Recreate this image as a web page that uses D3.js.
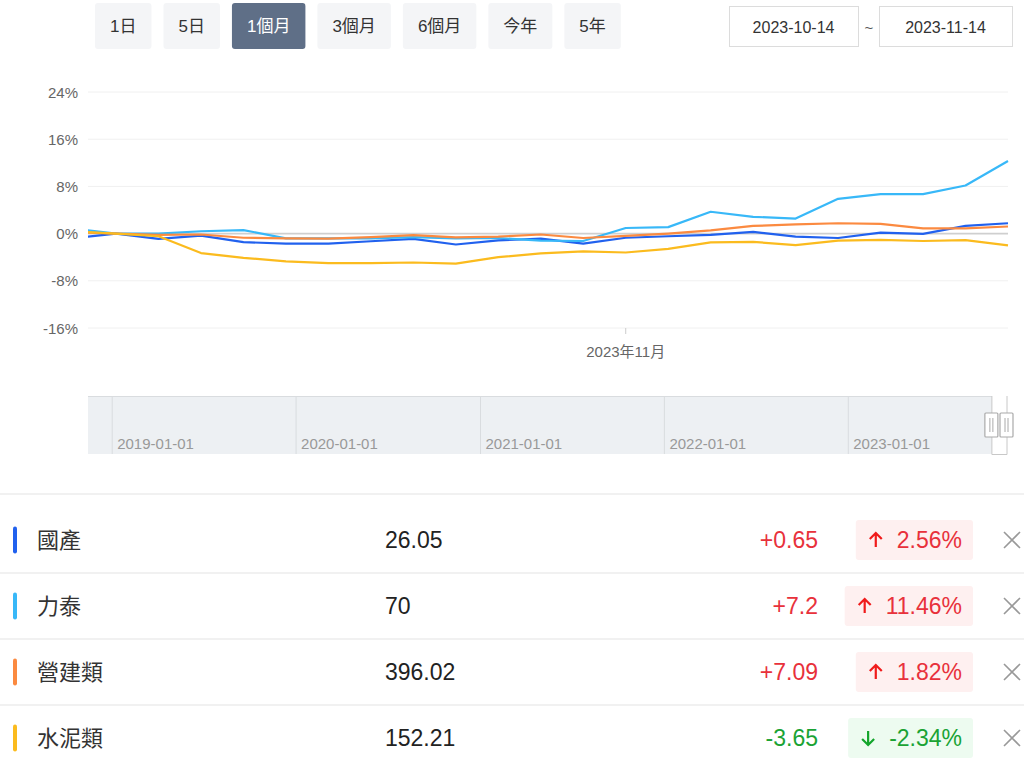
<!DOCTYPE html>
<html>
<head>
<meta charset="utf-8">
<script src="https://cdn.jsdelivr.net/npm/d3@7"></script>
<style>
  html, body { margin: 0; padding: 0; background: #fff; }
  svg { display: block; font-family: "Liberation Sans", "Noto Sans CJK TC", sans-serif; }
</style>
</head>
<body>
<svg id="chart" width="1024" height="769"></svg>
<script>

// ---- data ----
let range_buttons = ["1日", "5日", "1個月", "3個月", "6個月", "今年", "5年"];
let active_button = "1個月";
let date_from = "2023-10-14";
let date_to   = "2023-11-14";

// trading days shown in the window (first one is cut off by the zoom window)
let dates = ["2023-10-13", "2023-10-16", "2023-10-17", "2023-10-18", "2023-10-19", "2023-10-20",
             "2023-10-23", "2023-10-24", "2023-10-25", "2023-10-26", "2023-10-27",
             "2023-10-30", "2023-10-31", "2023-11-01", "2023-11-02", "2023-11-03",
             "2023-11-06", "2023-11-07", "2023-11-08", "2023-11-09", "2023-11-10",
             "2023-11-13", "2023-11-14"];

// % change vs. first day of window
let guochan  = [-0.76, 0, -0.9, -0.35, -1.45, -1.7, -1.7, -1.3, -0.9, -1.85, -1.15, -0.85, -1.7,
                -0.7, -0.45, -0.2, 0.3, -0.5, -0.75, 0.15, -0.05, 1.3, 1.75];
let litai    = [0.85, 0, 0, 0.4, 0.6, -0.8, -0.8, -0.8, -0.6, -0.8, -0.75, -1.2, -1.25,
                0.95, 1.1, 3.7, 2.85, 2.55, 5.9, 6.7, 6.7, 8.15, 12.3];
let yingjian = [0.26, 0, -0.2, -0.15, -0.7, -0.8, -0.85, -0.6, -0.25, -0.65, -0.5, -0.15, -0.75,
                -0.4, 0, 0.55, 1.3, 1.55, 1.75, 1.65, 0.9, 0.9, 1.2];
let shuini   = [0.4, 0, -0.45, -3.3, -4.1, -4.7, -5.0, -5.0, -4.9, -5.1, -4.0, -3.35, -3.0,
                -3.2, -2.6, -1.5, -1.4, -1.95, -1.2, -1.05, -1.25, -1.1, -2.0];

let y_ticks = [24, 16, 8, 0, -8, -16];
let x_tick_date = "2023-11-01";
let x_tick_label = "2023年11月";

// overview slider
let slider_start = "2018-11-14";
let slider_end   = "2023-11-14";
let slider_years = ["2019-01-01", "2020-01-01", "2021-01-01", "2022-01-01", "2023-01-01"];

// table
let names   = ["國產", "力泰", "營建類", "水泥類"];
let prices  = ["26.05", "70", "396.02", "152.21"];
let changes = [0.65, 7.2, 7.09, -3.65];
let pcts    = [2.56, 11.46, 1.82, -2.34];
let colors  = ["#2161ee", "#38b8f8", "#fb8a40", "#fbbb1e"];

let series = [guochan, litai, yingjian, shuini];

// ---- setup ----
let chart = d3.select("#chart");
let parse = d3.timeParse("%Y-%m-%d");

// range buttons along the top
let btn_x = 95;
range_buttons.forEach(function(label){
    let g = chart.append("g");
    let is_active = label === active_button;
    let t = g.append("text")
        .attr("y", 26)
        .attr("dominant-baseline", "central")
        .attr("font-size", 17)
        .attr("fill", is_active ? "#fff" : "#333")
        .text(label);
    let w = t.node().getComputedTextLength() + 30;
    g.insert("rect", "text")
        .attr("x", btn_x).attr("y", 3)
        .attr("width", w).attr("height", 46)
        .attr("rx", 3)
        .attr("fill", is_active ? "#5f6f87" : "#f4f5f7");
    t.attr("x", btn_x + 15);
    btn_x += w + 12;
});

// date inputs
[[729, 129, date_from], [879, 133, date_to]].forEach(function(b){
    chart.append("rect")
        .attr("x", b[0] + 0.5).attr("y", 6.5)
        .attr("width", b[1]).attr("height", 40)
        .attr("fill", "#fff").attr("stroke", "#dcdcdc");
    chart.append("text")
        .attr("x", b[0] + b[1] / 2).attr("y", 27)
        .attr("text-anchor", "middle").attr("dominant-baseline", "central")
        .attr("font-size", 16).attr("fill", "#333")
        .text(b[2]);
});
chart.append("text")
    .attr("x", 869).attr("y", 27)
    .attr("text-anchor", "middle").attr("dominant-baseline", "central")
    .attr("font-size", 15).attr("fill", "#555")
    .text("~");

// ---- main line chart ----
let plot_left = 88, plot_right = 1008, plot_top = 92, plot_bottom = 328;

// x by trading-day index, window begins part way after the first point
let x = d3.scaleLinear()
          .domain([0.34, dates.length - 1])
          .range([plot_left, plot_right]);

let y = d3.scaleLinear()
          .domain([-16, 24])
          .range([plot_bottom, plot_top]);

// gridlines + labels
chart.append("g").selectAll("line")
    .data(y_ticks).enter()
        .append("line")
            .attr("x1", plot_left).attr("x2", plot_right)
            .attr("y1", function(d){ return y(d); })
            .attr("y2", function(d){ return y(d); })
            .attr("stroke", function(d){ return d === 0 ? "#cfcfcf" : "#f0f0f0"; })
            .attr("stroke-width", function(d){ return d === 0 ? 1.6 : 1; });

chart.append("g").selectAll("text")
    .data(y_ticks).enter()
        .append("text")
            .attr("x", 78)
            .attr("y", function(d){ return y(d); })
            .attr("text-anchor", "end")
            .attr("dominant-baseline", "central")
            .attr("font-size", 15)
            .attr("fill", "#666")
            .text(function(d){ return d + "%"; });

// x tick
let tick_x = x(dates.indexOf(x_tick_date));
chart.append("line")
    .attr("x1", tick_x).attr("x2", tick_x)
    .attr("y1", plot_bottom).attr("y2", plot_bottom + 6)
    .attr("stroke", "#ccc");
chart.append("text")
    .attr("x", tick_x).attr("y", 351)
    .attr("text-anchor", "middle").attr("dominant-baseline", "central")
    .attr("font-size", 15).attr("fill", "#666")
    .text(x_tick_label);

chart.append("clipPath").attr("id", "plot-clip")
    .append("rect")
        .attr("x", plot_left).attr("y", 0)
        .attr("width", plot_right - plot_left + 2).attr("height", 400);

let line = d3.line()
    .x(function(d, i){ return x(i); })
    .y(function(d){ return y(d); });

chart.append("g").attr("clip-path", "url(#plot-clip)")
    .selectAll("path")
    .data(series).enter()
        .append("path")
            .attr("d", line)
            .attr("fill", "none")
            .attr("stroke", function(d, i){ return colors[i]; })
            .attr("stroke-width", 2.2)
            .attr("stroke-linejoin", "round");

// ---- overview slider ----
let sx = d3.scaleTime()
           .domain([parse(slider_start), parse(slider_end)])
           .range([plot_left, plot_right]);
let s_top = 396, s_bottom = 454;
let sel_left = sx(parse(dates[0]));

chart.append("rect")
    .attr("x", plot_left).attr("y", s_top)
    .attr("width", sel_left - plot_left).attr("height", s_bottom - s_top)
    .attr("fill", "#edf0f3");
chart.append("line")
    .attr("x1", plot_left).attr("x2", sel_left)
    .attr("y1", s_top + 0.5).attr("y2", s_top + 0.5)
    .attr("stroke", "#d9dcdf");

let years = chart.append("g").selectAll("g")
    .data(slider_years).enter()
        .append("g");
years.append("line")
    .attr("x1", function(d){ return sx(parse(d)); })
    .attr("x2", function(d){ return sx(parse(d)); })
    .attr("y1", s_top).attr("y2", s_bottom)
    .attr("stroke", "#d9dcdf");
years.append("text")
    .attr("x", function(d){ return sx(parse(d)) + 5; })
    .attr("y", 443)
    .attr("dominant-baseline", "central")
    .attr("font-size", 15)
    .attr("fill", "#999")
    .text(function(d){ return d; });

// selected window frame + handles
chart.append("path")
    .attr("d", "M" + sel_left + "," + s_top + "V" + (s_bottom + 0.5) + "H" + (plot_right - 1) + "V" + s_top)
    .attr("fill", "none").attr("stroke", "#c8c8c8");
[sel_left - 7, plot_right - 8].forEach(function(hx){
    let h = chart.append("g");
    h.append("rect")
        .attr("x", hx).attr("y", 413)
        .attr("width", 13).attr("height", 24)
        .attr("fill", "#fff").attr("stroke", "#aaa").attr("stroke-width", 1.2)
        .attr("rx", 1);
    [hx + 5, hx + 8].forEach(function(lx){
        h.append("line")
            .attr("x1", lx).attr("x2", lx)
            .attr("y1", 418).attr("y2", 432)
            .attr("stroke", "#aaa");
    });
});

// ---- table below ----
chart.append("line")
    .attr("x1", 0).attr("x2", 1024)
    .attr("y1", 494).attr("y2", 494)
    .attr("stroke", "#ececec").attr("stroke-width", 1.5);

let row_y = d3.scaleLinear().domain([0, 1]).range([540, 606]);

names.forEach(function(name, i){
    let cy = row_y(i);
    let up = changes[i] >= 0;
    let txt_color = up ? "#e8313b" : "#1aa334";
    let arrow_color = up ? "#f01b1b" : "#13a52b";

    chart.append("rect")
        .attr("x", 13).attr("y", cy - 13.5)
        .attr("width", 4).attr("height", 27)
        .attr("rx", 2)
        .attr("fill", colors[i]);

    chart.append("text")
        .attr("x", 37).attr("y", cy)
        .attr("dominant-baseline", "central")
        .attr("font-size", 22).attr("fill", "#333")
        .text(name);

    chart.append("text")
        .attr("x", 385).attr("y", cy)
        .attr("dominant-baseline", "central")
        .attr("font-size", 23).attr("fill", "#222")
        .text(prices[i]);

    chart.append("text")
        .attr("x", 818).attr("y", cy)
        .attr("text-anchor", "end").attr("dominant-baseline", "central")
        .attr("font-size", 23).attr("fill", txt_color)
        .text((up ? "+" : "") + changes[i]);

    // percent badge with arrow icon
    let badge = chart.append("g");
    let pt = badge.append("text")
        .attr("x", 962).attr("y", cy)
        .attr("text-anchor", "end").attr("dominant-baseline", "central")
        .attr("font-size", 23).attr("fill", txt_color)
        .text(pcts[i].toFixed(2) + "%");
    let text_start = 962 - pt.node().getComputedTextLength();
    let ax = text_start - 21;
    badge.insert("rect", "text")
        .attr("x", text_start - 41).attr("y", cy - 20)
        .attr("width", 973 - (text_start - 41)).attr("height", 40)
        .attr("rx", 3)
        .attr("fill", up ? "#fef0f0" : "#edfbf0");
    let dir = up ? -1 : 1;
    badge.append("path")
        .attr("d", "M" + ax + "," + (cy - 7 * dir) + "V" + (cy + 7 * dir) +
                   "M" + (ax - 6) + "," + (cy + 1 * dir) + "L" + ax + "," + (cy + 7 * dir) +
                   "L" + (ax + 6) + "," + (cy + 1 * dir))
        .attr("fill", "none")
        .attr("stroke", arrow_color)
        .attr("stroke-width", 2.2);

    // close cross
    chart.append("path")
        .attr("d", "M1004," + (cy - 8) + "L1020," + (cy + 8) + "M1020," + (cy - 8) + "L1004," + (cy + 8))
        .attr("stroke", "#999").attr("stroke-width", 1.6);

    chart.append("line")
        .attr("x1", 0).attr("x2", 1024)
        .attr("y1", cy + 33).attr("y2", cy + 33)
        .attr("stroke", "#ececec").attr("stroke-width", 1.5);
});

</script>
</body>
</html>
